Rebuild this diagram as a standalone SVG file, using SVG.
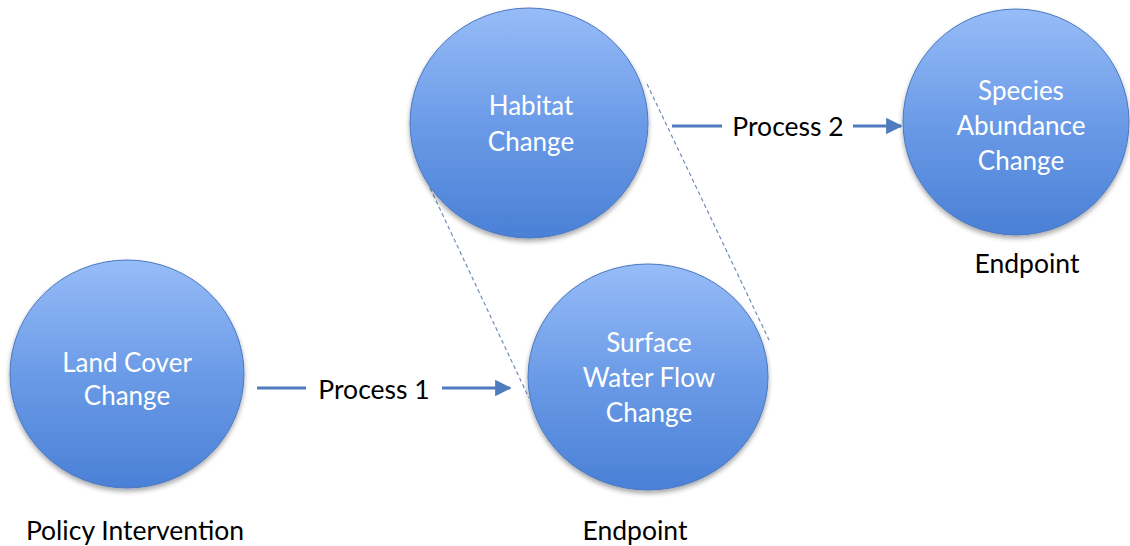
<svg xmlns="http://www.w3.org/2000/svg" width="1130" height="546" viewBox="0 0 1130 546">
  <defs>
    <linearGradient id="ballGrad" x1="0" y1="0" x2="0" y2="1">
      <stop offset="0" stop-color="#97bcf8"/>
      <stop offset="0.5" stop-color="#6b9be7"/>
      <stop offset="1" stop-color="#4a80d6"/>
    </linearGradient>
    <filter id="shadow" x="-20%" y="-20%" width="140%" height="150%">
      <feGaussianBlur in="SourceAlpha" stdDeviation="2.5"/>
      <feOffset dx="0" dy="3" result="b"/>
      <feComponentTransfer><feFuncA type="linear" slope="0.35"/></feComponentTransfer>
      <feMerge><feMergeNode/><feMergeNode in="SourceGraphic"/></feMerge>
    </filter>
    <marker id="arrow" viewBox="0 0 10 10" refX="9" refY="5" markerWidth="5.5" markerHeight="5.5" orient="auto" markerUnits="strokeWidth">
      <path d="M0,0 L10,5 L0,10 Z" fill="#4f7cbf"/>
    </marker>
    <style>
      .ball { fill: url(#ballGrad); stroke: #4a78c0; stroke-width: 1; filter: url(#shadow); }
      .in { font-family: Lato, "Liberation Sans", sans-serif; font-size: 26px; fill: #ffffff; text-anchor: middle; }
      .lbl { font-family: Lato, "Liberation Sans", sans-serif; font-size: 26.5px; fill: #000000; text-anchor: middle; }
      .conn { stroke: #4f7cbf; stroke-width: 3; fill: none; }
      .dash { stroke: #6f8db8; stroke-width: 1.2; stroke-dasharray: 4 3; fill: none; }
    </style>
  </defs>
  <rect width="1130" height="546" fill="#ffffff"/>

  <g id="connectors">
    <line class="dash" x1="430" y1="188" x2="529" y2="398"/>
    <line class="dash" x1="647" y1="84" x2="770" y2="342"/>
    <line class="conn" x1="257" y1="388" x2="306" y2="388"/>
    <line class="conn" x1="442" y1="388" x2="510" y2="388" marker-end="url(#arrow)"/>
    <text class="lbl" x="374" y="399">Process 1</text>
    <line class="conn" x1="672" y1="126" x2="722" y2="126"/>
    <line class="conn" x1="853" y1="126" x2="901" y2="126" marker-end="url(#arrow)"/>
    <text class="lbl" x="788" y="136">Process 2</text>
  </g>

  <g id="node-land-cover">
    <ellipse class="ball" cx="127" cy="374" rx="117" ry="114"/>
    <text class="in" x="127" y="372">Land Cover</text>
    <text class="in" x="127" y="405">Change</text>
    <text class="lbl" x="135" y="540">Policy Intervention</text>
  </g>

  <g id="node-habitat">
    <ellipse class="ball" cx="529" cy="123" rx="119" ry="115"/>
    <text class="in" x="531" y="115">Habitat</text>
    <text class="in" x="531" y="151">Change</text>
  </g>

  <g id="node-surface">
    <ellipse class="ball" cx="648" cy="377" rx="120" ry="113"/>
    <text class="in" x="649" y="352">Surface</text>
    <text class="in" x="649" y="387">Water Flow</text>
    <text class="in" x="649" y="422">Change</text>
    <text class="lbl" x="635" y="540">Endpoint</text>
  </g>

  <g id="node-species">
    <ellipse class="ball" cx="1016" cy="122" rx="113" ry="113"/>
    <text class="in" x="1021" y="100">Species</text>
    <text class="in" x="1021" y="135">Abundance</text>
    <text class="in" x="1021" y="170">Change</text>
    <text class="lbl" x="1027" y="273">Endpoint</text>
  </g>
</svg>
